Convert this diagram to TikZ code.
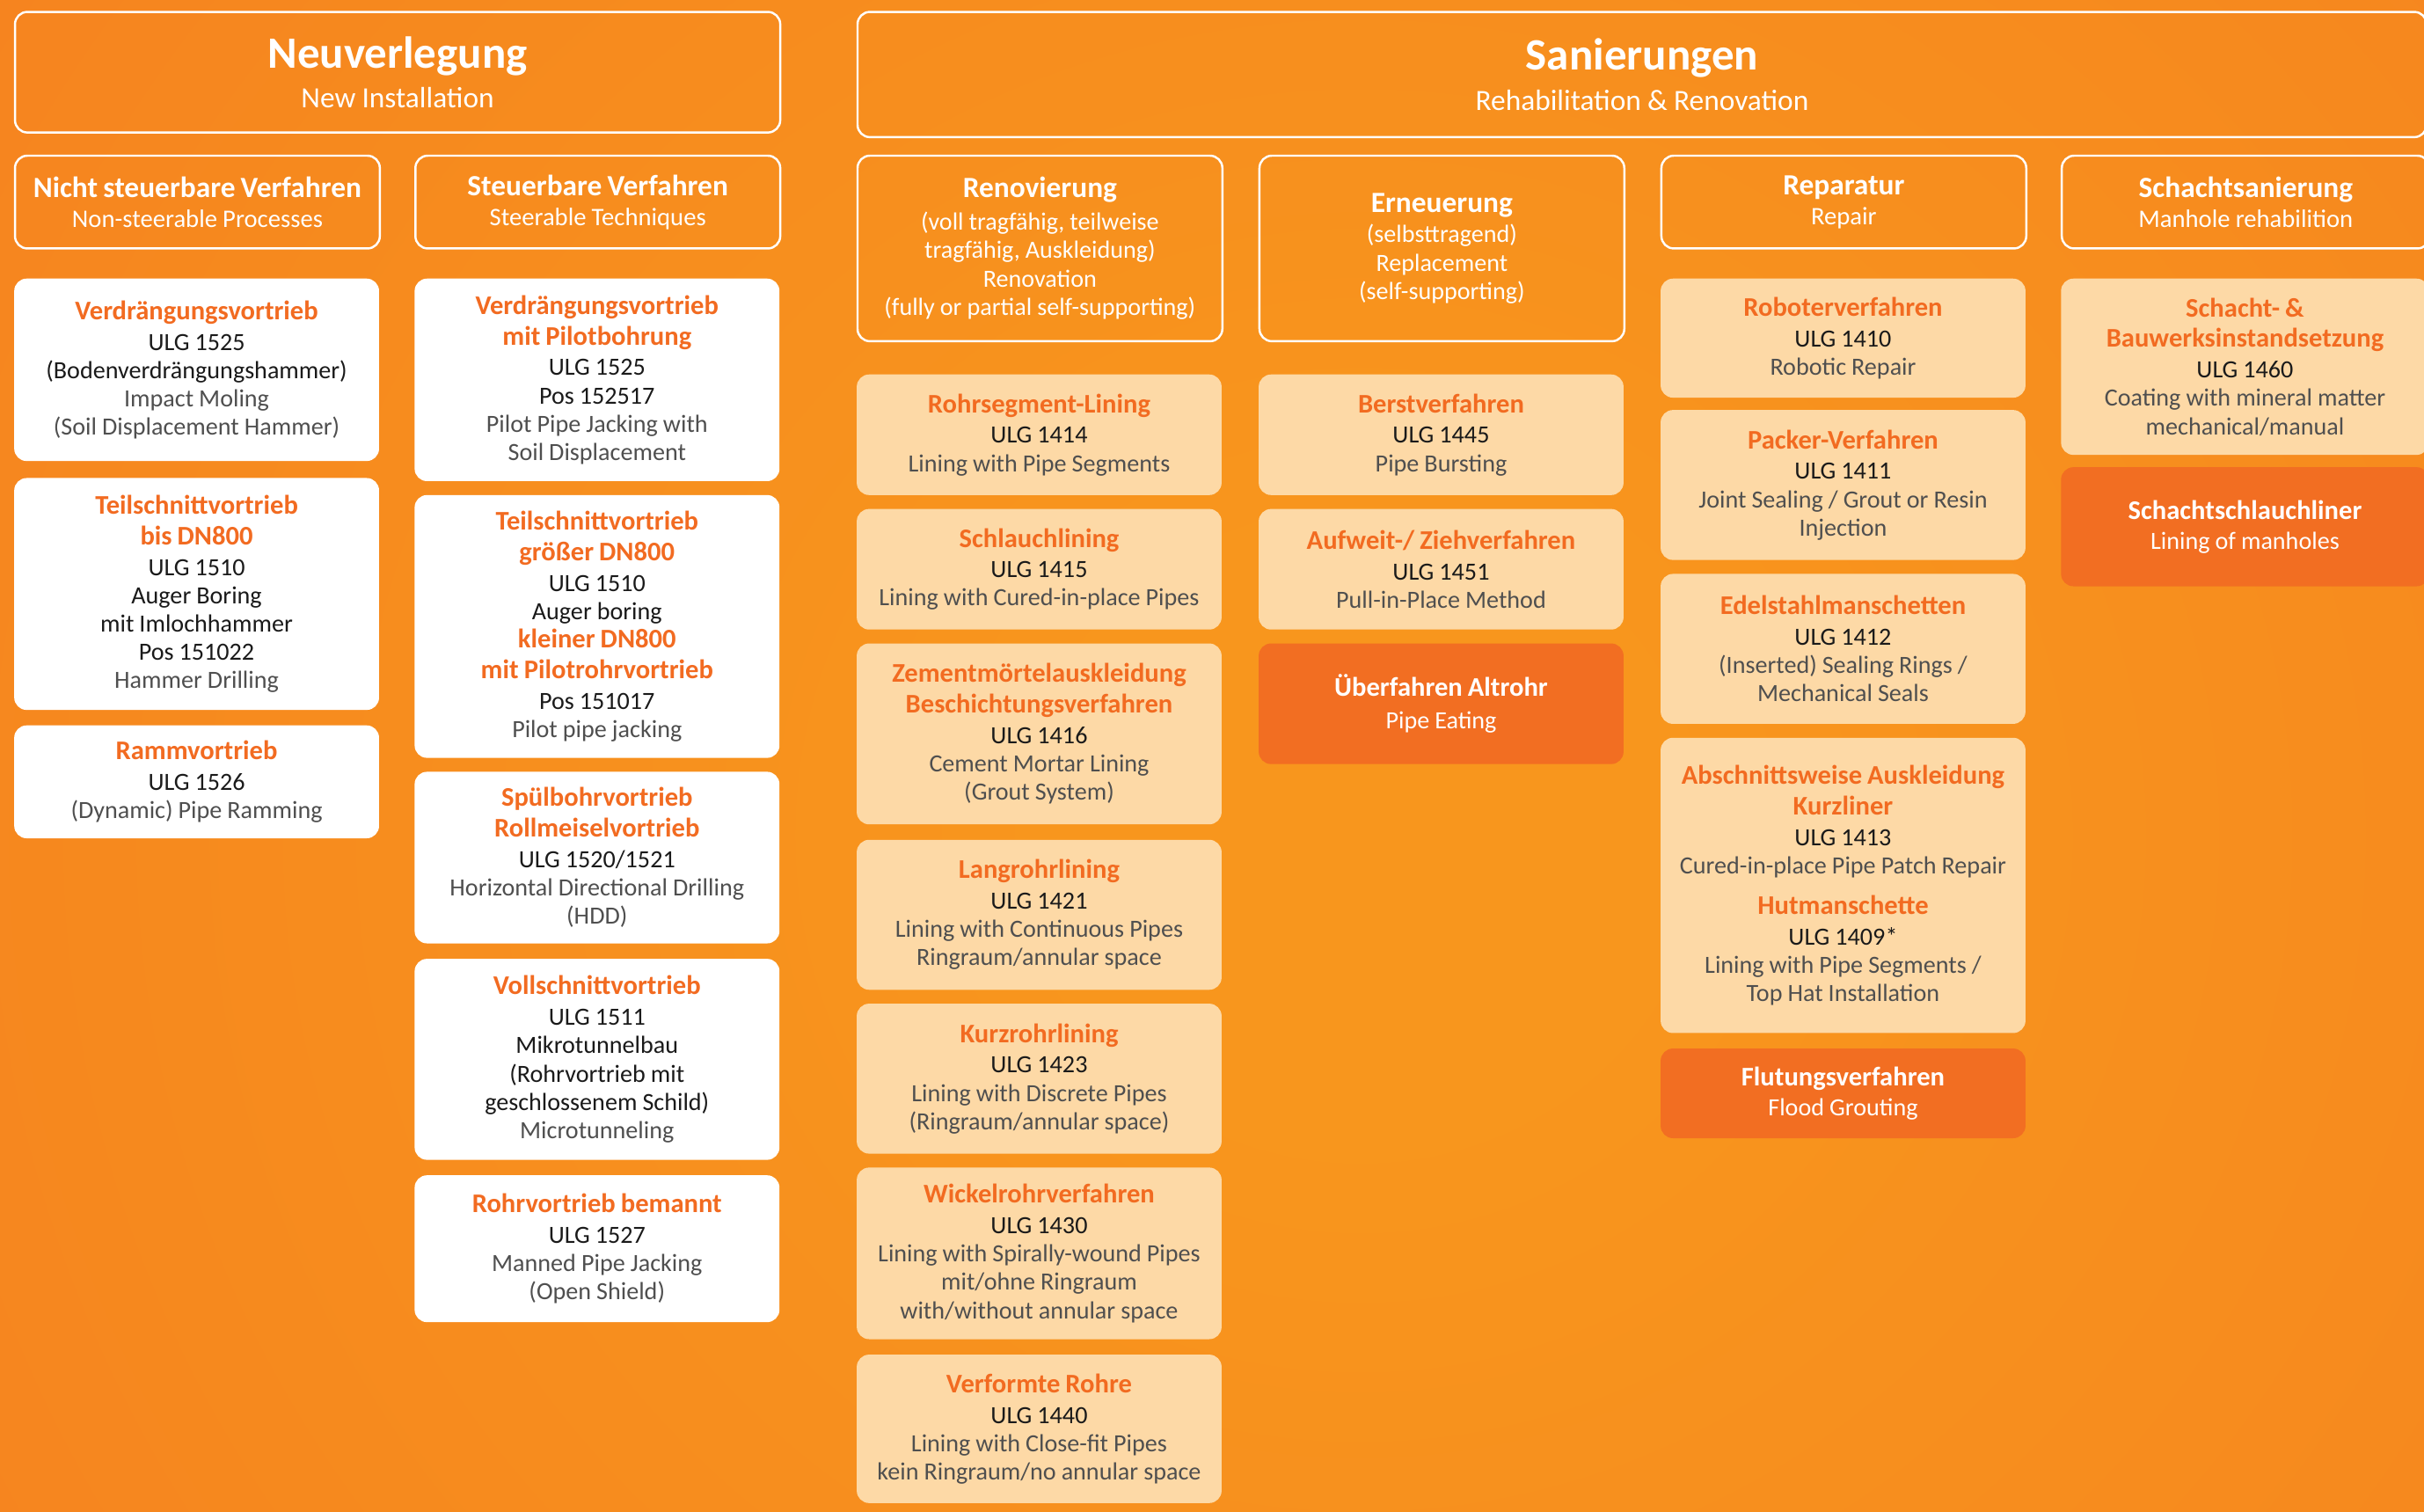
\documentclass[tikz,border=0pt]{standalone}
\usepackage{fontspec}
\setmainfont{Carlito}
\definecolor{otxt}{HTML}{F26B21}
\definecolor{gtxt}{HTML}{4F4F4F}
\definecolor{btxt}{HTML}{1A1A1A}
\definecolor{peach}{HTML}{FDD9A6}
\definecolor{darkor}{HTML}{F26E22}
\definecolor{bgin}{HTML}{F8961D}
\definecolor{bgout}{HTML}{F37021}
\pgfdeclareradialshading{bgrad}{\pgfpoint{0bp}{0bp}}{color(0bp)=(bgin); color(5bp)=(bgin); color(50bp)=(bgout)}
\newcommand\tightsp{\spaceskip=0.95\fontdimen2\font\relax\xspaceskip=\spaceskip}
\newcommand\otl[1]{{\fontsize{17.4}{18.3}\selectfont\bfseries\color{otxt}#1}}
\newcommand\wtl[1]{{\fontsize{17.4}{18.3}\selectfont\bfseries#1}}
\newcommand\bkl[1]{{\color{btxt}#1}}
\newcommand\htl[1]{{\fontsize{19}{20}\selectfont\bfseries#1}}
\tikzset{
  hdr/.style={draw=white, line width=1.4pt, rounded corners=8pt, text=white, align=center,
    inner sep=0pt, anchor=north west, font=\fontsize{16.3}{19.5}\selectfont,
    execute at begin node=\tightsp},
  card/.style={rounded corners=8pt, align=center, inner sep=0pt, anchor=north west,
    minimum width=236pt, text width=232pt, font=\fontsize{16}{18.3}\selectfont, text=gtxt,
    execute at begin node=\tightsp},
  wcard/.style={card, fill=white},
  pcard/.style={card, fill=peach},
  dcard/.style={card, fill=darkor, text=white},
}
\begin{document}
\begin{tikzpicture}[x=1pt,y=-1pt]
\useasboundingbox (0,0) rectangle (1568,978);
\begin{scope}
\clip (0,0) rectangle (1568,978);
\shade[shading=bgrad] (-120,-410) rectangle (1880,1490);

% top headers
\node[hdr, minimum width=495pt, minimum height=78pt, text width=480pt, font=\fontsize{19}{26}\selectfont] (neu) at (9,7)
  {{\fontsize{29}{30}\selectfont\bfseries Neuverlegung}\\New Installation};
\node[hdr, minimum width=1015pt, minimum height=81pt, text width=1000pt, font=\fontsize{19}{26}\selectfont] (san) at (554,7)
  {{\fontsize{29}{30}\selectfont\bfseries Sanierungen}\\Rehabilitation \& Renovation};

% second-level headers
\node[hdr, minimum width=236pt, minimum height=60pt, text width=232pt] (nsv) at (9,100)
  {\htl{Nicht steuerbare Verfahren}\\Non-steerable Processes};
\node[hdr, minimum width=236pt, minimum height=60pt, text width=232pt] (sv) at (268,100)
  {\htl{Steuerbare Verfahren}\\Steerable Techniques};
\node[hdr, minimum width=236pt, minimum height=120pt, text width=232pt, font=\fontsize{16}{18.5}\selectfont] (ren) at (554,100)
  {\htl{Renovierung}\\[2.5pt](voll tragfähig, teilweise\\tragfähig, Auskleidung)\\Renovation\\(fully or partial self-supporting)};
\node[hdr, minimum width=236pt, minimum height=120pt, text width=232pt, font=\fontsize{16}{18.5}\selectfont] (ern) at (814,100)
  {\htl{Erneuerung}\\[1pt](selbsttragend)\\Replacement\\(self-supporting)};
\node[hdr, minimum width=236pt, minimum height=60pt, text width=232pt] (rep) at (1074,100)
  {\htl{Reparatur}\\Repair};
\node[hdr, minimum width=238pt, minimum height=60pt, text width=232pt] (sch) at (1333,100)
  {\htl{Schachtsanierung}\\Manhole rehabilition};

% column 1
\node[wcard, minimum height=118pt] (a1) at (9,180)
  {\otl{Verdrängungsvortrieb}\\[1.5pt]\bkl{ULG 1525}\\\bkl{(Bodenverdrängungshammer)}\\Impact Moling\\(Soil Displacement Hammer)};
\node[wcard, minimum height=150pt] (a2) at (9,309)
  {\otl{Teilschnittvortrieb}\\[1.5pt]\otl{bis DN800}\\[1.5pt]\bkl{ULG 1510}\\\bkl{Auger Boring}\\\bkl{mit Imlochhammer}\\\bkl{Pos 151022}\\Hammer Drilling};
\node[wcard, minimum height=73pt] (a3) at (9,469)
  {\otl{Rammvortrieb}\\[1.5pt]\bkl{ULG 1526}\\(Dynamic) Pipe Ramming};

% column 2
\node[wcard, minimum height=131pt] (b1) at (268,180)
  {\otl{Verdrängungsvortrieb}\\[1.5pt]\otl{mit Pilotbohrung}\\[1.5pt]\bkl{ULG 1525}\\\bkl{Pos 152517}\\Pilot Pipe Jacking with\\Soil Displacement};
\node[wcard, minimum height=170pt] (b2) at (268,320)
  {\otl{Teilschnittvortrieb}\\[1.5pt]\otl{größer DN800}\\[1.5pt]\bkl{ULG 1510}\\\bkl{Auger boring}\\\otl{kleiner DN800}\\[1.5pt]\otl{mit Pilotrohrvortrieb}\\[1.5pt]\bkl{Pos 151017}\\Pilot pipe jacking};
\node[wcard, minimum height=111pt] (b3) at (268,499)
  {\otl{Spülbohrvortrieb}\\[1.5pt]\otl{Rollmeiselvortrieb}\\[1.5pt]\bkl{ULG 1520/1521}\\Horizontal Directional Drilling\\(HDD)};
\node[wcard, minimum height=130pt] (b4) at (268,620)
  {\otl{Vollschnittvortrieb}\\[1.5pt]\bkl{ULG 1511}\\\bkl{Mikrotunnelbau}\\\bkl{(Rohrvortrieb mit}\\\bkl{geschlossenem Schild)}\\Microtunneling};
\node[wcard, minimum height=95pt] (b5) at (268,760)
  {\otl{Rohrvortrieb bemannt}\\[1.5pt]\bkl{ULG 1527}\\Manned Pipe Jacking\\(Open Shield)};

% column 3
\node[pcard, minimum height=78pt] (c1) at (554,242)
  {\otl{Rohrsegment-Lining}\\[1.5pt]\bkl{ULG 1414}\\Lining with Pipe Segments};
\node[pcard, minimum height=78pt] (c2) at (554,329)
  {\otl{Schlauchlining}\\[1.5pt]\bkl{ULG 1415}\\Lining with Cured-in-place Pipes};
\node[pcard, minimum height=117pt] (c3) at (554,416)
  {\otl{Zementmörtelauskleidung}\\[1.5pt]\otl{Beschichtungsverfahren}\\[1.5pt]\bkl{ULG 1416}\\Cement Mortar Lining\\(Grout System)};
\node[pcard, minimum height=97pt] (c4) at (554,543)
  {\otl{Langrohrlining}\\[1.5pt]\bkl{ULG 1421}\\Lining with Continuous Pipes\\Ringraum/annular space};
\node[pcard, minimum height=97pt] (c5) at (554,649)
  {\otl{Kurzrohrlining}\\[1.5pt]\bkl{ULG 1423}\\Lining with Discrete Pipes\\(Ringraum/annular space)};
\node[pcard, minimum height=111pt] (c6) at (554,755)
  {\otl{Wickelrohrverfahren}\\[1.5pt]\bkl{ULG 1430}\\Lining with Spirally-wound Pipes\\mit/ohne Ringraum\\with/without annular space};
\node[pcard, minimum height=96pt] (c7) at (554,876)
  {\otl{Verformte Rohre}\\[1.5pt]\bkl{ULG 1440}\\Lining with Close-fit Pipes\\kein Ringraum/no annular space};

% column 4
\node[pcard, minimum height=78pt] (d1) at (814,242)
  {\otl{Berstverfahren}\\[1.5pt]\bkl{ULG 1445}\\Pipe Bursting};
\node[pcard, minimum height=78pt] (d2) at (814,329)
  {\otl{Aufweit-/ Ziehverfahren}\\[1.5pt]\bkl{ULG 1451}\\Pull-in-Place Method};
\node[dcard, minimum height=78pt] (d3) at (814,416)
  {\wtl{Überfahren Altrohr}\\[2.5pt]Pipe Eating};

% column 5
\node[pcard, minimum height=77pt] (e1) at (1074,180)
  {\otl{Roboterverfahren}\\[1.5pt]\bkl{ULG 1410}\\Robotic Repair};
\node[pcard, minimum height=97pt] (e2) at (1074,265)
  {\otl{Packer-Verfahren}\\[1.5pt]\bkl{ULG 1411}\\Joint Sealing / Grout or Resin\\Injection};
\node[pcard, minimum height=97pt] (e3) at (1074,371)
  {\otl{Edelstahlmanschetten}\\[1.5pt]\bkl{ULG 1412}\\(Inserted) Sealing Rings /\\Mechanical Seals};
\node[pcard, minimum height=191pt] (e4) at (1074,477)
  {\otl{Abschnittsweise Auskleidung}\\[1.5pt]\otl{Kurzliner}\\[1.5pt]\bkl{ULG 1413}\\Cured-in-place Pipe Patch Repair\\[8pt]\otl{Hutmanschette}\\[1.5pt]\bkl{ULG 1409*}\\Lining with Pipe Segments /\\Top Hat Installation};
\node[dcard, minimum height=58pt] (e5) at (1074,678)
  {\wtl{Flutungsverfahren}\\[1pt]Flood Grouting};

% column 6
\node[pcard, minimum width=238pt, minimum height=114pt] (f1) at (1333,180)
  {\otl{Schacht- \&}\\[1.5pt]\otl{Bauwerksinstandsetzung}\\[1.5pt]\bkl{ULG 1460}\\Coating with mineral matter\\mechanical/manual};
\node[dcard, minimum width=238pt, minimum height=77pt] (f2) at (1333,302)
  {\wtl{Schachtschlauchliner}\\[1pt]Lining of manholes};
\end{scope}
\end{tikzpicture}
\end{document}
